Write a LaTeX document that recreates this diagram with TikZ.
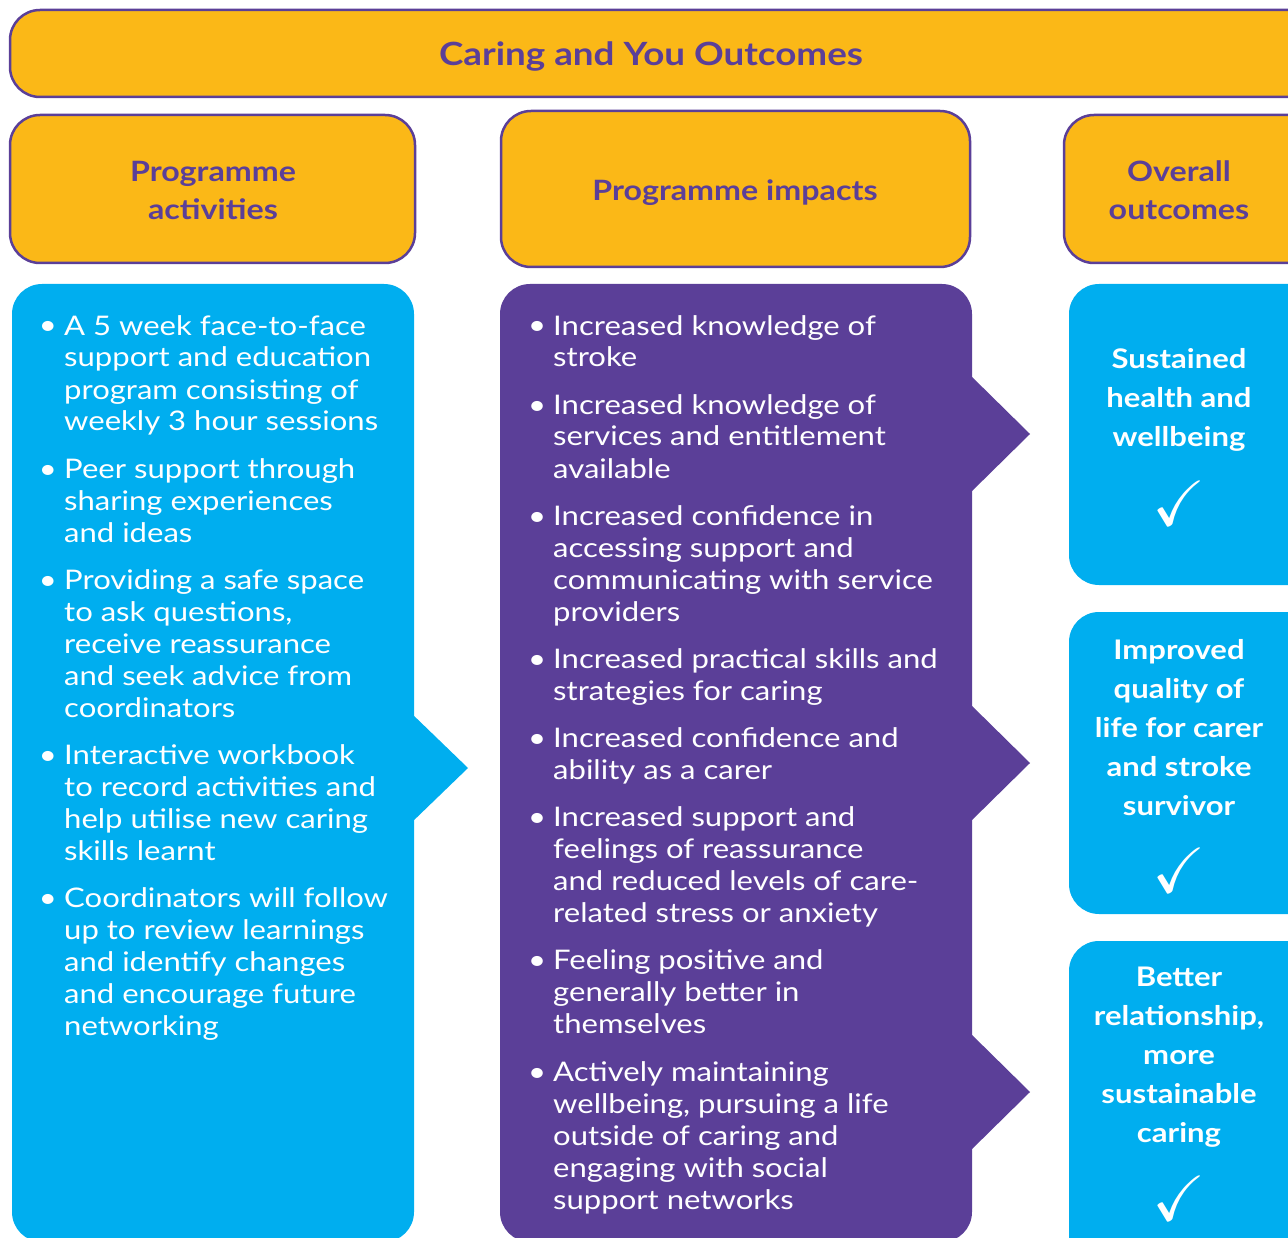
\documentclass[tikz,border=0pt]{standalone}
\usepackage{fontspec}
\usepackage{amssymb}
\setmainfont{Lato}[FakeStretch=1.15]
\definecolor{orng}{HTML}{FBB817}
\definecolor{purp}{HTML}{5B3F98}
\definecolor{blu}{HTML}{00AEEF}
\begin{document}
\begin{tikzpicture}[x=1pt,y=-1pt,
  hdrbox/.style={draw=purp, line width=2.5pt, fill=orng, rounded corners=30pt},
  hdrtxt/.style={text=purp, font=\fontsize{28}{38}\selectfont\bfseries, align=center, inner sep=0pt},
  ttltxt/.style={text=purp, font=\fontsize{32}{38}\selectfont\bfseries, inner sep=0pt},
  itm/.style={text=white, font=\fontsize{27}{32}\selectfont, align=left, inner sep=0pt, anchor=base west},
  bul/.style={text=white, font=\fontsize{27}{32}\selectfont, inner sep=0pt, anchor=base},
  outtxt/.style={text=white, font=\fontsize{27}{39}\selectfont\bfseries, align=center, inner sep=0pt},
  chk/.style={text=white, font=\fontsize{64}{64}\selectfont, inner sep=0pt}]
\useasboundingbox (0,0) rectangle (1288,1238);
\clip (0,0) rectangle (1288,1238);
% title and headers
\draw[hdrbox] (10,10) rectangle (1330,97);
\node[ttltxt] (title) at (651,57) {Caring and You Outcomes};
\draw[hdrbox] (10,115) rectangle (415,263);
\node[hdrtxt] (h1) at (213,190) {Programme\\activities};
\draw[hdrbox] (501,111) rectangle (970,267);
\node[hdrtxt] (h2) at (735,193) {Programme impacts};
\draw[hdrbox] (1064,115) rectangle (1330,263);
\node[hdrtxt] (h3) at (1179,190) {Overall\\outcomes};
% left column
\fill[blu, rounded corners=30pt] (12,284) rectangle (414,1242);
\fill[blu] (410,712) -- (468,768) -- (410,824) -- cycle;
% middle column
\fill[purp, rounded corners=30pt] (500,284) rectangle (972,1242);
\fill[purp] (968,373) -- (1030,434) -- (968,495) -- cycle;
\fill[purp] (968,702) -- (1030,763) -- (968,824) -- cycle;
\fill[purp] (968,1031) -- (1030,1092) -- (968,1153) -- cycle;
% right column
\fill[blu, rounded corners=30pt] (1069,284) rectangle (1330,585);
\fill[blu, rounded corners=30pt] (1069,612) rectangle (1330,914);
\fill[blu, rounded corners=30pt] (1069,941) rectangle (1330,1270);
% left items (node base = last line's baseline)
\node[bul] (lb1) at (48,335) {•};
\node[itm] (l1) at (64,431) {A 5 week face-to-face\\support and education\\program consisting of\\weekly 3 hour sessions};
\node[bul] (lb2) at (48,478) {•};
\node[itm] (l2) at (64,542) {Peer support through\\sharing experiences\\and ideas};
\node[bul] (lb3) at (48,589) {•};
\node[itm] (l3) at (64,717) {Providing a safe space\\to ask questions,\\receive reassurance\\and seek advice from\\coordinators};
\node[bul] (lb4) at (48,764) {•};
\node[itm] (l4) at (64,860) {Interactive workbook\\to record activities and\\help utilise new caring\\skills learnt};
\node[bul] (lb5) at (48,907) {•};
\node[itm] (l5) at (64,1035) {Coordinators will follow\\up to review learnings\\and identify changes\\and encourage future\\networking};
% middle items
\node[bul] (mb1) at (537,335) {•};
\node[itm] (m1) at (553,367) {Increased knowledge of\\stroke};
\node[bul] (mb2) at (537,414) {•};
\node[itm] (m2) at (553,478) {Increased knowledge of\\services and entitlement\\available};
\node[bul] (mb3) at (537,525) {•};
\node[itm] (m3) at (553,621) {Increased confidence in\\accessing support and\\communicating with service\\providers};
\node[bul] (mb4) at (537,668) {•};
\node[itm] (m4) at (553,700) {Increased practical skills and\\strategies for caring};
\node[bul] (mb5) at (537,747) {•};
\node[itm] (m5) at (553,779) {Increased confidence and\\ability as a carer};
\node[bul] (mb6) at (537,826) {•};
\node[itm] (m6) at (553,922) {Increased support and\\feelings of reassurance\\and reduced levels of care-\\related stress or anxiety};
\node[bul] (mb7) at (537,969) {•};
\node[itm] (m7) at (553,1033) {Feeling positive and\\generally better in\\themselves};
\node[bul] (mb8) at (537,1081) {•};
\node[itm] (m8) at (553,1209) {Actively maintaining\\wellbeing, pursuing a life\\outside of caring and\\engaging with social\\support networks};
% right outcomes
\node[outtxt] (o1) at (1179,400) {Sustained\\health and\\wellbeing};
\node[chk] (c1) at (1179,503) {$\checkmark$};
\node[outtxt] (o2) at (1179,728) {Improved\\quality of\\life for carer\\and stroke\\survivor};
\node[chk] (c2) at (1179,870) {$\checkmark$};
\node[outtxt] (o3) at (1179,1057) {Better\\relationship,\\more\\sustainable\\caring};
\node[chk] (c3) at (1179,1198) {$\checkmark$};
\end{tikzpicture}
\end{document}
